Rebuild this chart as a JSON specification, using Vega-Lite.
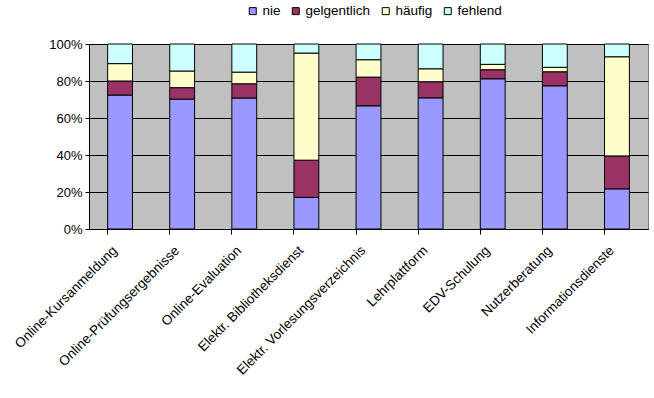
{
  "$schema": "https://vega.github.io/schema/vega-lite/v6.json",
  "width": 559,
  "height": 185,
  "autosize": "none",
  "padding": {"left": 89, "top": 44, "right": 6, "bottom": 169},
  "background": "white",
  "config": {
    "font": "Liberation Sans",
    "view": {"fill": "#C0C0C0", "stroke": "#808080", "strokeWidth": 1},
    "axis": {"labelFont": "Liberation Sans", "labelColor": "black", "domainColor": "black", "tickColor": "black"}
  },
  "data": {
    "values": [
      {"cat": "Online-Kursanmeldung", "resp": "nie", "v": 72.4},
      {"cat": "Online-Kursanmeldung", "resp": "gelgentlich", "v": 7.6},
      {"cat": "Online-Kursanmeldung", "resp": "häufig", "v": 9.4},
      {"cat": "Online-Kursanmeldung", "resp": "fehlend", "v": 10.6},
      {"cat": "Online-Prüfungsergebnisse", "resp": "nie", "v": 70.2},
      {"cat": "Online-Prüfungsergebnisse", "resp": "gelgentlich", "v": 6.2},
      {"cat": "Online-Prüfungsergebnisse", "resp": "häufig", "v": 9.0},
      {"cat": "Online-Prüfungsergebnisse", "resp": "fehlend", "v": 14.6},
      {"cat": "Online-Evaluation", "resp": "nie", "v": 70.8},
      {"cat": "Online-Evaluation", "resp": "gelgentlich", "v": 7.7},
      {"cat": "Online-Evaluation", "resp": "häufig", "v": 6.3},
      {"cat": "Online-Evaluation", "resp": "fehlend", "v": 15.2},
      {"cat": "Elektr. Bibliotheksdienst", "resp": "nie", "v": 17.1},
      {"cat": "Elektr. Bibliotheksdienst", "resp": "gelgentlich", "v": 20.1},
      {"cat": "Elektr. Bibliotheksdienst", "resp": "häufig", "v": 57.9},
      {"cat": "Elektr. Bibliotheksdienst", "resp": "fehlend", "v": 4.9},
      {"cat": "Elektr. Vorlesungsverzeichnis", "resp": "nie", "v": 66.6},
      {"cat": "Elektr. Vorlesungsverzeichnis", "resp": "gelgentlich", "v": 15.5},
      {"cat": "Elektr. Vorlesungsverzeichnis", "resp": "häufig", "v": 9.4},
      {"cat": "Elektr. Vorlesungsverzeichnis", "resp": "fehlend", "v": 8.5},
      {"cat": "Lehrplattform", "resp": "nie", "v": 70.9},
      {"cat": "Lehrplattform", "resp": "gelgentlich", "v": 8.7},
      {"cat": "Lehrplattform", "resp": "häufig", "v": 7.0},
      {"cat": "Lehrplattform", "resp": "fehlend", "v": 13.4},
      {"cat": "EDV-Schulung", "resp": "nie", "v": 81.2},
      {"cat": "EDV-Schulung", "resp": "gelgentlich", "v": 4.9},
      {"cat": "EDV-Schulung", "resp": "häufig", "v": 2.9},
      {"cat": "EDV-Schulung", "resp": "fehlend", "v": 11.0},
      {"cat": "Nutzerberatung", "resp": "nie", "v": 77.4},
      {"cat": "Nutzerberatung", "resp": "gelgentlich", "v": 7.6},
      {"cat": "Nutzerberatung", "resp": "häufig", "v": 2.4},
      {"cat": "Nutzerberatung", "resp": "fehlend", "v": 12.6},
      {"cat": "Informationsdienste", "resp": "nie", "v": 21.7},
      {"cat": "Informationsdienste", "resp": "gelgentlich", "v": 17.8},
      {"cat": "Informationsdienste", "resp": "häufig", "v": 53.6},
      {"cat": "Informationsdienste", "resp": "fehlend", "v": 6.9}
    ]
  },
  "transform": [
    {"calculate": "indexof(['nie','gelgentlich','häufig','fehlend'], datum.resp)", "as": "stackOrder"}
  ],
  "mark": {"type": "bar", "stroke": "black", "strokeWidth": 1},
  "encoding": {
    "x": {
      "field": "cat", "type": "nominal", "sort": null, "title": null,
      "scale": {"paddingInner": 0.6, "paddingOuter": 0.3},
      "axis": {"labelAngle": -45, "labelFontSize": 13.5, "labelAlign": "right", "labelBaseline": "middle", "bandPosition": 0, "labelOffset": -5, "labelPadding": 14, "tickSize": 5, "grid": false, "domainWidth": 1, "labelOverlap": false, "labelLimit": 300}
    },
    "y": {
      "field": "v", "type": "quantitative", "stack": "normalize", "title": null,
      "scale": {"domain": [0, 1], "nice": false},
      "axis": {"format": ".0%", "values": [0, 0.2, 0.4, 0.6, 0.8, 1], "labelFontSize": 13, "grid": true, "gridColor": "black", "gridWidth": 1, "gridOpacity": 1, "tickSize": 4, "labelPadding": 3}
    },
    "color": {
      "field": "resp", "type": "nominal", "title": null,
      "sort": ["nie", "gelgentlich", "häufig", "fehlend"],
      "scale": {"domain": ["nie", "gelgentlich", "häufig", "fehlend"], "range": ["#9999FF", "#993366", "#FFFFCC", "#CCFFFF"]},
      "legend": {"orient": "none", "direction": "horizontal", "legendX": 157, "legendY": -40, "symbolType": "square", "symbolSize": 49, "symbolStrokeColor": "black", "symbolStrokeWidth": 1, "labelFontSize": 13.5, "labelFont": "Liberation Sans", "columnPadding": 8, "labelOffset": 3}
    },
    "order": {"field": "stackOrder", "type": "quantitative", "sort": "ascending"}
  }
}
